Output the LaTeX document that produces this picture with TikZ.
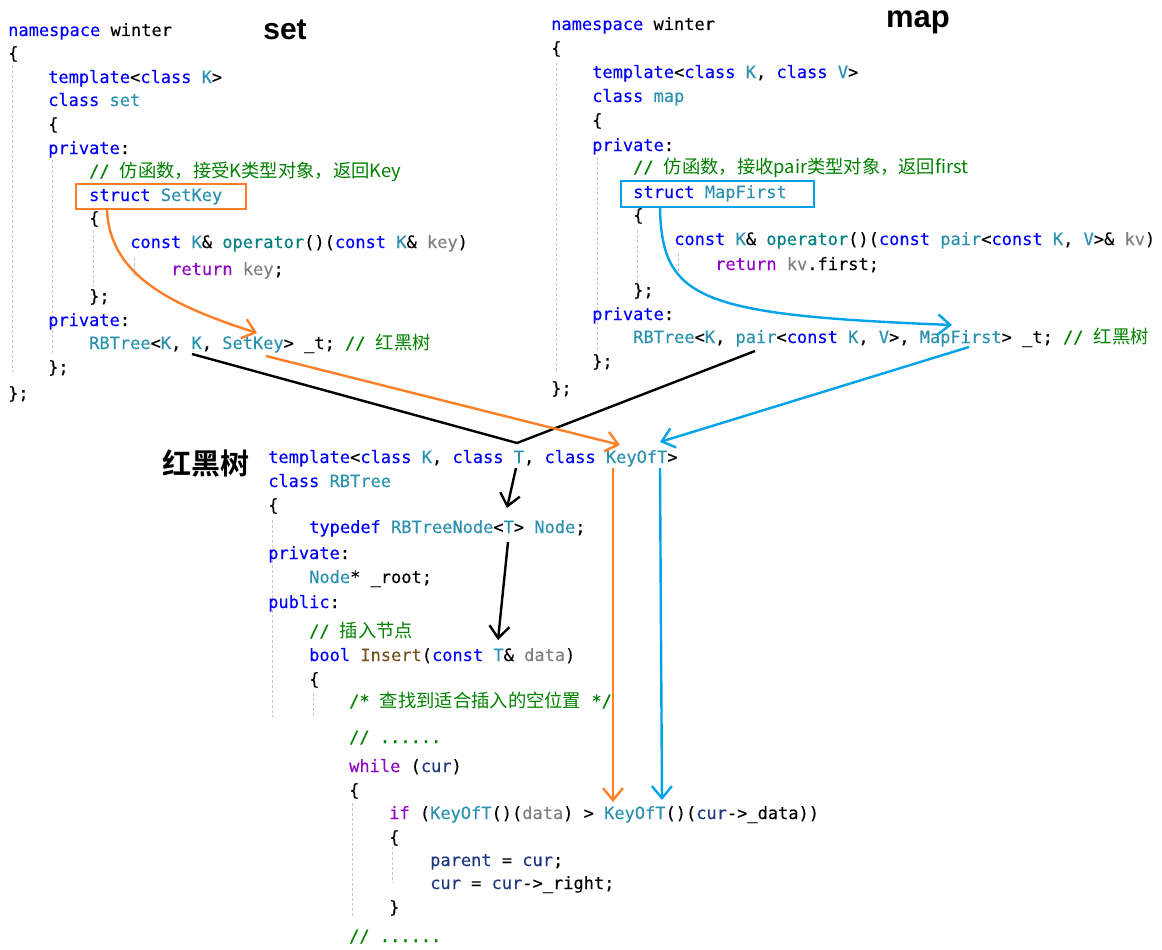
\documentclass[tikz,border=0pt]{standalone}
\usepackage{fontspec}
\setmainfont{Liberation Sans}
\setmonofont[FakeBold=0.3]{DejaVu Sans Mono}
\newfontfamily\cjk{Noto Sans CJK SC}
\newfontfamily\cjkbold{Noto Sans CJK SC Bold}
\usetikzlibrary{arrows.meta,positioning}

\definecolor{kwblue}{RGB}{0,0,255}
\definecolor{tyteal}{RGB}{43,145,175}
\definecolor{cmgreen}{RGB}{0,128,0}
\definecolor{ctpurple}{RGB}{143,8,196}
\definecolor{pagray}{RGB}{128,128,128}
\definecolor{fnteal}{RGB}{0,128,128}
\definecolor{fnbrown}{RGB}{116,83,31}
\definecolor{vanavy}{RGB}{31,55,127}
\definecolor{arrorange}{RGB}{255,127,39}
\definecolor{arrblue}{RGB}{0,162,232}

\newcommand{\codefont}{\fontsize{17}{20}\selectfont\ttfamily}
\newcommand{\ckw}[1]{\textcolor{kwblue}{#1}}
\newcommand{\cty}[1]{\textcolor{tyteal}{#1}}
\newcommand{\ccm}[1]{\textcolor{cmgreen}{#1}}
\newcommand{\czh}[1]{{\cjk\fontsize{18.3}{20}\selectfont #1}}
\newcommand{\cct}[1]{\textcolor{ctpurple}{#1}}
\newcommand{\cpa}[1]{\textcolor{pagray}{#1}}
\newcommand{\cfn}[1]{\textcolor{fnteal}{#1}}
\newcommand{\cfb}[1]{\textcolor{fnbrown}{#1}}
\newcommand{\cva}[1]{\textcolor{vanavy}{#1}}

\begin{document}
\begin{tikzpicture}[x=1pt, y=-1pt, >=Stealth,
  codeln/.style={anchor=base west, inner sep=0pt, font=\codefont},
  guide/.style={gray!45, line width=0.8pt, dash pattern=on 3pt off 2pt},
  obox/.style={draw=arrorange, line width=2.2pt, inner sep=0pt, anchor=north west},
  bbox/.style={draw=arrblue, line width=2.2pt, inner sep=0pt, anchor=north west},
  oarr/.style={arrorange, line width=2.4pt, -{Straight Barb[length=12pt,width=20pt]}},
  barr/.style={arrblue, line width=2.4pt, -{Straight Barb[length=12pt,width=20pt]}},
  karr/.style={black, line width=2.4pt, -{Straight Barb[length=12pt,width=20pt]}},
  kline/.style={black, line width=2.4pt}]
\useasboundingbox (0,0) rectangle (1162,950);

% indent guides
\draw[guide] (12,65) -- (12,372);
\draw[guide] (52,160) -- (52,355);
\draw[guide] (93,230) -- (93,287);
\draw[guide] (134,258) -- (134,278);
\draw[guide] (556,63) -- (556,373);
\draw[guide] (597,157) -- (597,350);
\draw[guide] (637,230) -- (637,283);
\draw[guide] (678,253) -- (678,273);
\draw[guide] (272,520) -- (272,717);
\draw[guide] (313,693) -- (313,717);
\draw[guide] (352,803) -- (352,917);
\draw[guide] (392,847) -- (392,883);

% titles
\node[font=\bfseries\fontsize{30}{30}\selectfont] (settitle) at (285,30) {set};
\node[font=\bfseries\fontsize{31}{31}\selectfont] (maptitle) at (918,22) {map};
\node[font=\cjkbold\fontsize{29}{29}\selectfont] (rbtitle) at (206,463) {红黑树};

% set
\node[codeln] (s1) at (8,36) {\ckw{namespace} winter};
\node[codeln] (s2) at (8,59) {\{};
\node[codeln] (s3) at (48,83) {\ckw{template}<\ckw{class} \cty{K}>};
\node[codeln] (s4) at (48,106) {\ckw{class} \cty{set}};
\node[codeln] (s5) at (48,130) {\{};
\node[codeln] (s6) at (48,154) {\ckw{private}:};
\node[codeln] (s7) at (89,177) {\ccm{// \czh{仿函数，接受K类型对象，返回Key}}};
\node[codeln] (s8) at (89,201) {\ckw{struct} \cty{SetKey}};
\node[codeln] (s9) at (89,224) {\{};
\node[codeln] (s10) at (130,248) {\ckw{const} \cty{K}\& \cfn{operator}()(\ckw{const} \cty{K}\& \cpa{key})};
\node[codeln] (s11) at (171,275) {\cct{return} \cpa{key};};
\node[codeln] (s12) at (89,302) {\};};
\node[codeln] (s13) at (48,326) {\ckw{private}:};
\node[codeln] (s14) at (89,349) {\cty{RBTree}<\cty{K}, \cty{K}, \cty{SetKey}> \_t; \ccm{// \czh{红黑树}}};
\node[codeln] (s15) at (48,373) {\};};
\node[codeln] (s16) at (8,399) {\};};
\node[obox, minimum width=170pt, minimum height=25pt] (setbox) at (75,183) {};

% map
\node[codeln] (m1) at (551,30) {\ckw{namespace} winter};
\node[codeln] (m2) at (551,54) {\{};
\node[codeln] (m3) at (592,78) {\ckw{template}<\ckw{class} \cty{K}, \ckw{class} \cty{V}>};
\node[codeln] (m4) at (592,102) {\ckw{class} \cty{map}};
\node[codeln] (m5) at (592,126) {\{};
\node[codeln] (m6) at (592,151) {\ckw{private}:};
\node[codeln] (m7) at (633,173) {\ccm{// \czh{仿函数，接收pair类型对象，返回first}}};
\node[codeln] (m8) at (633,198) {\ckw{struct} \cty{MapFirst}};
\node[codeln] (m9) at (633,221) {\{};
\node[codeln] (m10) at (674,245) {\ckw{const} \cty{K}\& \cfn{operator}()(\ckw{const} \cty{pair}<\ckw{const} \cty{K}, \cty{V}>\& \cpa{kv})};
\node[codeln] (m11) at (715,270) {\cct{return} \cpa{kv}.first;};
\node[codeln] (m12) at (633,296) {\};};
\node[codeln] (m13) at (592,320) {\ckw{private}:};
\node[codeln] (m14) at (633,343) {\cty{RBTree}<\cty{K}, \cty{pair}<\ckw{const} \cty{K}, \cty{V}>, \cty{MapFirst}> \_t; \ccm{// \czh{红黑树}}};
\node[codeln] (m15) at (592,367) {\};};
\node[codeln] (m16) at (551,394) {\};};
\node[bbox, minimum width=193pt, minimum height=26pt] (mapbox) at (620,180) {};

% RBTree
\node[codeln] (t1) at (268,463) {\ckw{template}<\ckw{class} \cty{K}, \ckw{class} \cty{T}, \ckw{class} \cty{KeyOfT}>};
\node[codeln] (t2) at (268,487) {\ckw{class} \cty{RBTree}};
\node[codeln] (t3) at (268,511) {\{};
\node[codeln] (t4) at (309,533) {\ckw{typedef} \cty{RBTreeNode}<\cty{T}> \cty{Node};};
\node[codeln] (t5) at (268,559) {\ckw{private}:};
\node[codeln] (t6) at (309,583) {\cty{Node}* \_root;};
\node[codeln] (t7) at (268,608) {\ckw{public}:};
\node[codeln] (t8) at (309,637) {\ccm{// \czh{插入节点}}};
\node[codeln] (t9) at (309,661) {\ckw{bool} \cfb{Insert}(\ckw{const} \cty{T}\& \cpa{data})};
\node[codeln] (t10) at (309,685) {\{};
\node[codeln] (t11) at (349,707) {\ccm{/* \czh{查找到适合插入的空位置} */}};
\node[codeln] (t12) at (349,743) {\ccm{// ......}};
\node[codeln] (t13) at (349,772) {\cct{while} (\cva{cur})};
\node[codeln] (t14) at (349,796) {\{};
\node[codeln] (t15) at (389,819) {\cct{if} (\cty{KeyOfT}()(\cpa{data}) > \cty{KeyOfT}()(\cva{cur}->\_data))};
\node[codeln] (t16) at (389,843) {\{};
\node[codeln] (t17) at (430,866) {\cva{parent} = \cva{cur};};
\node[codeln] (t18) at (430,889) {\cva{cur} = \cva{cur}->\_right;};
\node[codeln] (t19) at (389,913) {\}};
\node[codeln] (t20) at (349,942) {\ccm{// ......}};

% arrow ends
\coordinate (skey) at (257,333);
\coordinate (sk) at (192,354);
\coordinate (ssk) at (266,356);
\coordinate (mpair) at (755,351);
\coordinate (mfirst) at (952,325);
\coordinate (mmf) at (969,347);
\coordinate (vtip) at (517,443);
\coordinate (kot) at (620,445);
\coordinate (kotb) at (660,442);
\coordinate (ta) at (516,468);
\coordinate (tb) at (507,508);
\coordinate (tc) at (508,542);
\coordinate (td) at (498,640);
\coordinate (oa) at (613,468);
\coordinate (ob) at (613,802);
\coordinate (ba) at (660,468);
\coordinate (bb) at (662,800);

% arrows
\draw[oarr] ([xshift=32pt]setbox.south west) .. controls (110,275) and (170,305) .. (skey);
\draw[barr] ([xshift=40pt]mapbox.south west) .. controls (662,300) and (700,315) .. (mfirst);
\draw[kline] (sk) -- (vtip) -- (mpair);
\draw[oarr] (ssk) -- (kot);
\draw[barr] (mmf) -- (kotb);
\draw[karr] (ta) -- (tb);
\draw[karr] (tc) -- (td);
\draw[oarr] (oa) -- (ob);
\draw[barr] (ba) -- (bb);
\end{tikzpicture}
\end{document}
